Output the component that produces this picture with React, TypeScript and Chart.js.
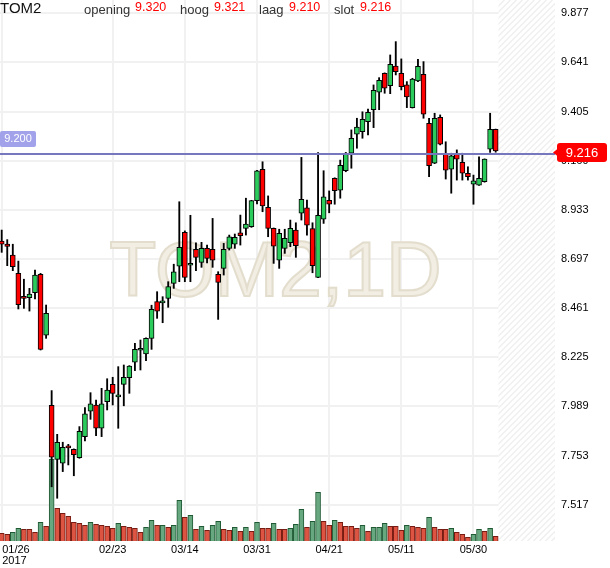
import React, { useEffect, useRef } from 'react';
import { Chart, registerables } from 'chart.js';

Chart.register(...registerables);

const symbol = 'TOM2';
const interval = '1D';

const opens = [
  8.783, 8.769, 8.716, 8.628, 8.515, 8.511, 8.535, 8.624, 8.331, 7.994,
  7.735, 7.717, 7.792, 7.783, 7.743, 7.844, 7.966, 7.996, 7.884, 8.012,
  8.095, 8.035, 8.095, 8.127, 8.201, 8.259, 8.241, 8.316, 8.492, 8.486,
  8.508, 8.580, 8.663, 8.825, 8.667, 8.744, 8.681, 8.748, 8.744, 8.624,
  8.652, 8.748, 8.768, 8.823, 8.844, 8.852, 8.977, 9.128, 8.945, 8.844,
  8.692, 8.748, 8.775, 8.836, 8.917, 8.943, 8.843, 8.609, 8.888, 8.979,
  9.085, 9.028, 9.121, 9.205, 9.296, 9.308, 9.356, 9.414, 9.498, 9.589,
  9.529, 9.624, 9.589, 9.533, 9.424, 9.552, 9.584, 9.349, 9.157, 9.378,
  9.205, 9.128, 9.205, 9.161, 9.109, 9.056, 9.052, 9.068, 9.225, 9.320,
];
const highs = [
  8.836, 8.790, 8.768, 8.687, 8.600, 8.556, 8.644, 8.628, 8.476, 8.065,
  7.855, 7.817, 7.807, 7.785, 7.892, 7.983, 8.055, 8.020, 8.076, 8.122,
  8.129, 8.180, 8.188, 8.185, 8.292, 8.308, 8.319, 8.475, 8.540, 8.516,
  8.588, 8.672, 8.972, 8.832, 8.907, 8.775, 8.777, 8.764, 8.892, 8.636,
  8.772, 8.812, 8.817, 8.908, 8.989, 8.979, 9.123, 9.164, 9.000, 8.846,
  8.840, 8.840, 8.884, 8.871, 9.185, 8.980, 8.871, 9.208, 9.121, 9.024,
  9.087, 9.172, 9.209, 9.317, 9.373, 9.404, 9.417, 9.533, 9.568, 9.591,
  9.677, 9.741, 9.658, 9.549, 9.565, 9.656, 9.645, 9.373, 9.397, 9.389,
  9.260, 9.205, 9.221, 9.205, 9.140, 9.100, 9.188, 9.178, 9.397, 9.321,
];
const lows = [
  8.729, 8.665, 8.641, 8.457, 8.460, 8.447, 8.505, 8.260, 8.316, 7.603,
  7.548, 7.676, 7.708, 7.656, 7.740, 7.823, 7.927, 7.848, 7.844, 7.972,
  7.996, 7.884, 7.992, 8.052, 8.161, 8.164, 8.209, 8.263, 8.412, 8.391,
  8.465, 8.556, 8.588, 8.588, 8.588, 8.641, 8.657, 8.678, 8.657, 8.407,
  8.620, 8.740, 8.748, 8.764, 8.812, 8.849, 8.961, 8.924, 8.804, 8.676,
  8.652, 8.724, 8.756, 8.705, 8.884, 8.812, 8.631, 8.607, 8.868, 8.919,
  8.960, 8.989, 9.116, 9.133, 9.229, 9.277, 9.293, 9.328, 9.414, 9.493,
  9.491, 9.581, 9.509, 9.424, 9.422, 9.549, 9.373, 9.092, 9.155, 9.245,
  9.081, 9.013, 9.076, 9.076, 9.076, 8.960, 9.050, 9.066, 9.209, 9.210,
];
const closes = [
  8.768, 8.758, 8.660, 8.478, 8.508, 8.528, 8.620, 8.263, 8.436, 7.745,
  7.817, 7.793, 7.790, 7.757, 7.870, 7.953, 8.001, 7.884, 8.001, 8.068,
  8.052, 8.037, 8.129, 8.183, 8.263, 8.261, 8.316, 8.455, 8.447, 8.488,
  8.564, 8.636, 8.753, 8.609, 8.676, 8.705, 8.748, 8.700, 8.692, 8.585,
  8.744, 8.804, 8.801, 8.809, 8.865, 8.977, 9.121, 8.952, 8.844, 8.759,
  8.820, 8.796, 8.844, 8.761, 8.984, 8.859, 8.665, 8.907, 8.996, 8.960,
  9.025, 9.147, 9.205, 9.277, 9.330, 9.368, 9.402, 9.507, 9.555, 9.517,
  9.632, 9.597, 9.525, 9.476, 9.561, 9.622, 9.392, 9.145, 9.373, 9.248,
  9.124, 9.192, 9.176, 9.109, 9.092, 9.072, 9.085, 9.177, 9.320, 9.216,
];
// volume in thousands
const volumes = [
  77, 67, 87, 127, 117, 117, 87, 187, 147, 820,
  327, 277, 247, 187, 177, 157, 187, 167, 157, 147,
  127, 177, 147, 137, 127, 87, 137, 207, 157, 157,
  137, 157, 407, 237, 257, 117, 147, 107, 157, 197,
  117, 107, 137, 97, 137, 97, 187, 127, 127, 177,
  117, 117, 127, 167, 317, 137, 197, 487, 197, 157,
  207, 187, 147, 147, 127, 157, 97, 137, 137, 177,
  147, 147, 107, 157, 147, 137, 127, 237, 137, 117,
  117, 127, 87, 67, 37, 67, 117, 97, 127, 47,
];
// 1 = green volume bar, 0 = red volume bar
const volumeUp = [
  0, 0, 1, 1, 0, 0, 0, 1, 0, 1,
  0, 0, 0, 0, 0, 0, 1, 0, 0, 0,
  0, 1, 0, 0, 0, 0, 1, 1, 0, 1,
  0, 1, 1, 0, 1, 0, 1, 0, 1, 1,
  0, 0, 1, 0, 1, 0, 1, 0, 0, 1,
  0, 0, 1, 1, 1, 0, 1, 1, 0, 0,
  1, 0, 0, 0, 0, 1, 0, 1, 1, 1,
  0, 0, 0, 1, 0, 0, 0, 1, 0, 0,
  0, 1, 0, 0, 0, 1, 1, 0, 1, 0,
];

const dateTickIndex = [0, 20, 33, 46, 59, 72, 85];
const dateTickLabels = ['01/26', '02/23', '03/14', '03/31', '04/21', '05/11', '05/30'];
const yearLabel = '2017';
const priceTicks = [7.517, 7.753, 7.989, 8.225, 8.461, 8.697, 8.933, 9.169, 9.405, 9.641, 9.877];
const referenceLevel = 9.2;
const headerLabels = ['opening', 'hoog', 'laag', 'slot'];

const FONT = '"Liberation Sans", Arial, Helvetica, sans-serif';

export default function App() {
  const ref = useRef<HTMLCanvasElement>(null);

  useEffect(() => {
    const canvas = ref.current;
    if (!canvas) return;
    const n = opens.length;
    const bodies = opens.map((o, i) => ({ x: i, y: [o, closes[i]] }));
    const wicks = lows.map((l, i) => ({ x: i, y: [l, highs[i]] }));
    const vols = volumes.map((v, i) => ({ x: i, y: v }));
    const bodyColors = opens.map((o, i) => (closes[i] >= o ? '#2bcc5c' : '#ff0000'));
    const volFill = volumeUp.map((u) => (u ? '#68a880' : '#dd5542'));
    const volBorder = volumeUp.map((u) => (u ? '#1f5a34' : '#761c12'));

    const overlay = {
      id: 'overlay',
      beforeDatasetsDraw(chart: any) {
        const { ctx, chartArea: a, scales } = chart;
        const x = scales.x;
        const hx = x.getPixelForValue(n - 0.5);
        ctx.save();
        ctx.fillStyle = '#ffffff';
        ctx.fillRect(hx, a.top, a.right - hx, a.bottom - a.top);
        ctx.beginPath();
        ctx.rect(hx, a.top, a.right - hx, a.bottom - a.top);
        ctx.clip();
        ctx.strokeStyle = '#efefef';
        ctx.lineWidth = 1.5;
        const h = a.bottom - a.top;
        for (let s = hx - h; s < a.right + 6; s += 6) {
          ctx.beginPath();
          ctx.moveTo(s, a.bottom);
          ctx.lineTo(s + h, a.top);
          ctx.stroke();
        }
        ctx.restore();

        ctx.save();
        ctx.font = `77px ${FONT}`;
        ctx.textAlign = 'center';
        ctx.textBaseline = 'alphabetic';
        const wx = (a.left + a.right) / 2 - 2;
        const wy = (a.top + a.bottom) / 2 + 25;
        const text = `${symbol},${interval}`;
        ctx.fillStyle = '#f2eee4';
        ctx.fillText(text, wx, wy);
        ctx.strokeStyle = '#e3ddcd';
        ctx.lineWidth = 2;
        ctx.strokeText(text, wx, wy);
        ctx.restore();
      },
      afterDraw(chart: any) {
        const { ctx, chartArea: a, scales } = chart;
        const x = scales.x;
        const y = scales.y;
        ctx.save();
        // reference line
        const ly = Math.round(y.getPixelForValue(referenceLevel));
        ctx.strokeStyle = '#7777bd';
        ctx.lineWidth = 2;
        ctx.beginPath();
        ctx.moveTo(a.left, ly);
        ctx.lineTo(a.right, ly);
        ctx.stroke();
        // reference label
        ctx.fillStyle = '#a2a2ea';
        ctx.beginPath();
        (ctx as any).roundRect(0, ly - 23, 36, 16, 2);
        ctx.fill();
        ctx.fillStyle = '#ffffff';
        ctx.font = `11px ${FONT}`;
        ctx.textAlign = 'center';
        ctx.textBaseline = 'middle';
        ctx.fillText(referenceLevel.toFixed(3), 18, ly - 15);

        // last price tag
        const last = closes[n - 1];
        const cy = y.getPixelForValue(last) + 1.5;
        ctx.fillStyle = '#ff0000';
        ctx.beginPath();
        (ctx as any).roundRect(557, cy - 9.5, 50, 19, 3);
        ctx.fill();
        ctx.beginPath();
        ctx.moveTo(553, cy);
        ctx.lineTo(558, cy - 4);
        ctx.lineTo(558, cy + 4);
        ctx.closePath();
        ctx.fill();
        ctx.fillStyle = '#ffffff';
        ctx.font = `13px ${FONT}`;
        ctx.textAlign = 'center';
        ctx.textBaseline = 'middle';
        ctx.fillText(last.toFixed(3), 582, cy + 0.5);

        // date labels
        ctx.fillStyle = '#000000';
        ctx.font = `11px ${FONT}`;
        ctx.textBaseline = 'alphabetic';
        dateTickIndex.forEach((idx, k) => {
          const px = x.getPixelForValue(idx);
          if (k === 0) {
            ctx.textAlign = 'left';
            ctx.fillText(dateTickLabels[k], px + 0.5, 553);
            ctx.fillText(yearLabel, px + 0.5, 564);
          } else {
            ctx.textAlign = 'center';
            ctx.fillText(dateTickLabels[k], px, 553);
          }
        });

        // header
        ctx.textAlign = 'left';
        ctx.fillStyle = '#111111';
        ctx.font = `15px ${FONT}`;
        ctx.fillText(symbol, 0, 13);
        const values = [opens[n - 1], highs[n - 1], lows[n - 1], closes[n - 1]];
        const labelX = [84, 180, 259, 334];
        const valueX = [135, 214, 289, 360];
        headerLabels.forEach((lab, k) => {
          ctx.fillStyle = '#333333';
          ctx.font = `13px ${FONT}`;
          ctx.fillText(lab, labelX[k], 13.5);
          ctx.fillStyle = '#ff0000';
          ctx.font = `12.5px ${FONT}`;
          ctx.fillText(values[k].toFixed(3), valueX[k], 11);
        });
        ctx.restore();
      },
    };

    const chart = new Chart(canvas, {
      type: 'bar',
      data: {
        datasets: [
          {
            label: 'body',
            data: bodies as any,
            backgroundColor: bodyColors,
            borderColor: '#000000',
            borderWidth: 1,
            borderSkipped: false,
            barThickness: 5,
            minBarLength: 2,
            grouped: false,
            order: 1,
            yAxisID: 'y',
          } as any,
          {
            label: 'wick',
            data: wicks as any,
            backgroundColor: '#000000',
            borderWidth: 0,
            barThickness: 1.2,
            grouped: false,
            order: 2,
            yAxisID: 'y',
          } as any,
          {
            label: 'volume',
            data: vols as any,
            backgroundColor: volFill,
            borderColor: volBorder,
            borderWidth: 1,
            borderSkipped: 'start',
            barThickness: 5,
            grouped: false,
            order: 3,
            yAxisID: 'v',
          } as any,
        ],
      },
      options: {
        animation: false,
        responsive: false,
        devicePixelRatio: 1,
        layout: { padding: 0 },
        plugins: {
          legend: { display: false },
          tooltip: { enabled: false },
          title: { display: false },
        },
        scales: {
          x: {
            type: 'linear',
            min: -0.306,
            max: 99.69,
            offset: false,
            afterBuildTicks: (s: any) => {
              s.ticks = dateTickIndex.map((v) => ({ value: v }));
            },
            afterFit: (s: any) => {
              s.height = 27;
              s.paddingLeft = 0;
              s.paddingRight = 0;
            },
            ticks: { display: false },
            grid: { color: '#f1f1f1', lineWidth: 2, drawTicks: false, offset: false },
            border: { display: false },
          },
          y: {
            type: 'linear',
            position: 'right',
            min: 7.3427,
            max: 9.9409,
            afterBuildTicks: (s: any) => {
              s.ticks = priceTicks.map((v) => ({ value: v }));
            },
            afterFit: (s: any) => {
              s.width = 55;
              s.paddingTop = 0;
              s.paddingBottom = 0;
            },
            ticks: {
              display: true,
              autoSkip: false,
              padding: 6,
              color: '#000000',
              font: { family: FONT, size: 11 },
              callback: (v: any) => Number(v).toFixed(3),
            },
            grid: { color: '#f1f1f1', lineWidth: 2, drawTicks: false },
            border: { display: false },
          },
          v: {
            type: 'linear',
            display: false,
            min: 0,
            max: Math.max(...volumes) * 6.6,
          },
        },
      } as any,
      plugins: [overlay],
    });
    return () => chart.destroy();
  }, []);

  return (
    <div style={{ position: 'absolute', left: 0, top: 0, width: 610, height: 568, background: '#fff' }}>
      <canvas ref={ref} width={610} height={568} style={{ display: 'block', width: 610, height: 568 }} />
    </div>
  );
}
